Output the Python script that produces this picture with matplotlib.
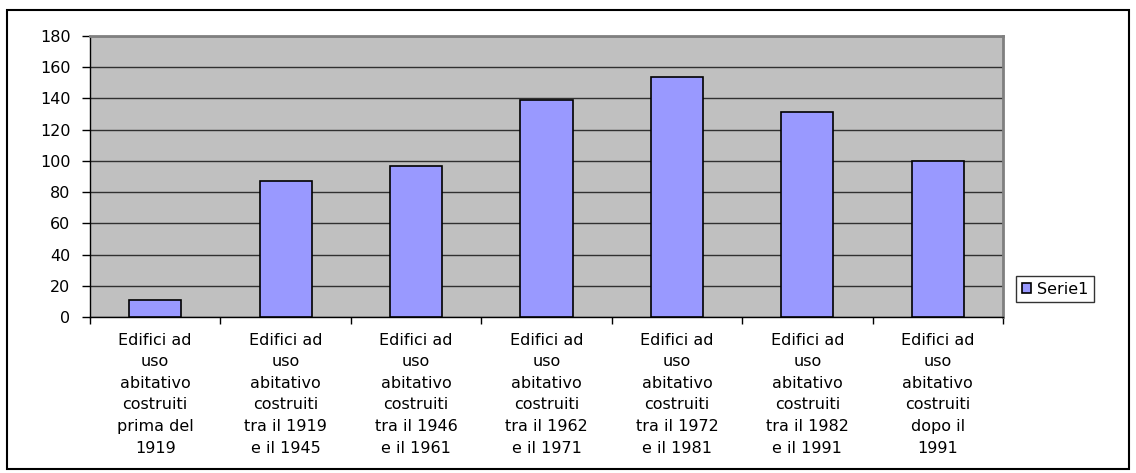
import matplotlib.pyplot as plt
from matplotlib.patches import Rectangle

categorie = [
    "Edifici ad\nuso\nabitativo\ncostruiti\nprima del\n1919",
    "Edifici ad\nuso\nabitativo\ncostruiti\ntra il 1919\ne il 1945",
    "Edifici ad\nuso\nabitativo\ncostruiti\ntra il 1946\ne il 1961",
    "Edifici ad\nuso\nabitativo\ncostruiti\ntra il 1962\ne il 1971",
    "Edifici ad\nuso\nabitativo\ncostruiti\ntra il 1972\ne il 1981",
    "Edifici ad\nuso\nabitativo\ncostruiti\ntra il 1982\ne il 1991",
    "Edifici ad\nuso\nabitativo\ncostruiti\ndopo il\n1991",
]
serie1 = [11, 87, 97, 139, 154, 131, 100]
y_ticks = list(range(0, 181, 20))

plt.rcParams["font.family"] = ["DejaVu Sans"]
fs = 11.5

fig = plt.figure(figsize=(11.36, 4.73), dpi=100)
ax = fig.add_axes([90 / 1136, 1 - 317 / 473, 913 / 1136, 281 / 473])

# cornice esterna
fig.patches.append(Rectangle((7 / 1136, 4 / 473), 1122 / 1136, 459 / 473,
                             transform=fig.transFigure, fill=False,
                             edgecolor="black", linewidth=1.5))

x = list(range(len(categorie)))
ax.bar(x, serie1, width=0.4, color="#9999FF", edgecolor="black",
       linewidth=1.2, label="Serie1", zorder=3)

ax.set_facecolor("#C0C0C0")
ax.set_xlim(-0.5, len(categorie) - 0.5)
ax.set_ylim(0, 180)
ax.set_yticks(y_ticks)
ax.yaxis.grid(True, color="#303030", linewidth=1.0, zorder=1)

# tacche tra le categorie
ax.set_xticks([i - 0.5 for i in range(len(categorie) + 1)])
ax.set_xticklabels([])
ax.tick_params(axis="x", length=5, width=1, color="black")
ax.tick_params(axis="y", length=6, width=1, color="black", labelsize=fs, pad=8)
for i, lab in enumerate(categorie):
    ax.text(i, -10, lab, ha="center", va="top", fontsize=fs,
            linespacing=1.55, transform=ax.transData)

for s in ["top", "right"]:
    ax.spines[s].set_color("#808080")
    ax.spines[s].set_linewidth(2)
for s in ["left", "bottom"]:
    ax.spines[s].set_color("black")
    ax.spines[s].set_linewidth(1)

leg = fig.legend(loc="center left", bbox_to_anchor=(1016 / 1136, 1 - 289 / 473),
                 frameon=True, fancybox=False, edgecolor="black",
                 handlelength=0.6, handleheight=0.6, handletextpad=0.35,
                 borderpad=0.35, fontsize=fs, borderaxespad=0)
leg.get_frame().set_linewidth(1)

fig.savefig("out.png", dpi=100)
